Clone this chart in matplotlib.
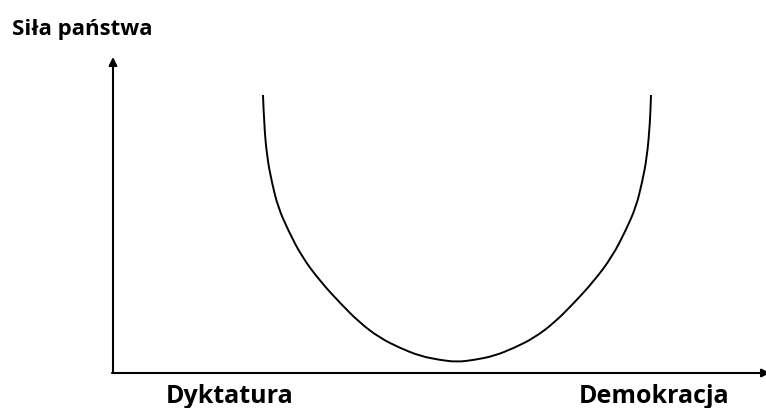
import matplotlib.pyplot as plt
from matplotlib.path import Path
from matplotlib.patches import PathPatch

# curve (pixel coords of the reference, y down)
curve_x = [263, 264, 267, 272, 278, 288, 302, 320, 340, 360, 380, 400, 420, 440,
           457,
           474, 494, 514, 534, 554, 574, 594, 612, 626, 636, 642, 647, 650, 651]
curve_y = [95, 123, 157, 183, 207, 230, 257, 281, 303, 323, 338, 348, 356, 360,
           362,
           360, 356, 348, 338, 323, 303, 281, 257, 230, 207, 183, 157, 123, 95]

y_label = 'Siła państwa'
left_label = 'Dyktatura'
right_label = 'Demokracja'

fig = plt.figure(figsize=(7.66, 4.08), dpi=100)
ax = fig.add_axes([0, 0, 1, 1])
ax.set_xlim(0, 766)
ax.set_ylim(408, 0)
ax.axis('off')

# axes with arrows
arrow = dict(arrowstyle='-|>', color='black', lw=1.5, mutation_scale=12,
             shrinkA=0, shrinkB=0)
ax.annotate('', xy=(113, 57), xytext=(113, 373), arrowprops=arrow,
            annotation_clip=False)
ax.annotate('', xy=(770, 373), xytext=(112, 373), arrowprops=arrow,
            annotation_clip=False)

# smooth the read points: quadratic pieces through the midpoints
pts = list(zip(curve_x, curve_y))
verts = [pts[0]]
codes = [Path.MOVETO]
for i in range(1, len(pts) - 1):
    mid = ((pts[i][0] + pts[i + 1][0]) / 2, (pts[i][1] + pts[i + 1][1]) / 2)
    verts += [pts[i], mid]
    codes += [Path.CURVE3, Path.CURVE3]
verts.append(pts[-1])
codes.append(Path.LINETO)
ax.add_patch(PathPatch(Path(verts, codes), fill=False, edgecolor='black', lw=1.4))

font = 'Open Sans'
ax.text(12, 29, y_label, fontsize=16, fontweight='bold', family=font,
        ha='left', va='center')
ax.text(230, 384, left_label, fontsize=18, fontweight='bold', family=font,
        ha='center', va='top')
ax.text(654, 384, right_label, fontsize=18, fontweight='bold', family=font,
        ha='center', va='top')

fig.savefig('out.png', dpi=100)
